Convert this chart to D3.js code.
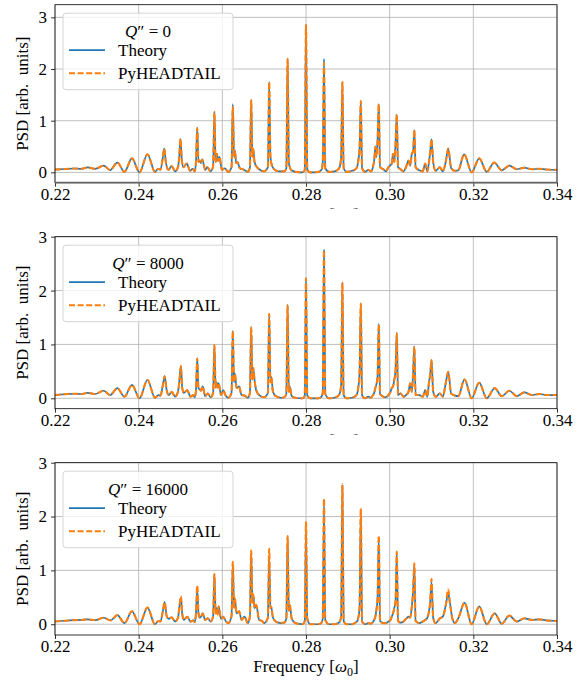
<!DOCTYPE html>
<html>
<head>
<meta charset="utf-8">
<script src="https://cdn.jsdelivr.net/npm/d3@7"></script>
<style>
  body { margin: 0; background: #fff; }
  text { font-family: "Liberation Serif", "DejaVu Serif", serif; }
</style>
</head>
<body>
<svg id="chart" width="580" height="683"></svg>
<script>
// tick values and labels
const X_TICKS = [0.22, 0.24, 0.26, 0.28, 0.30, 0.32, 0.34];
const Y_TICKS = [0, 1, 2, 3];
const SERIES = ['Theory', 'PyHEADTAIL'];
const CHROMA = ['0', '8000', '16000'];

// Theory spectra, [frequency, PSD]
const theoryQ0 = [
  [0.2200,0.055],[0.2224,0.065],[0.2245,0.075],[0.2262,0.068],[0.2278,0.095],[0.2296,0.068],[0.2316,0.13],[0.2332,0.045],
  [0.2349,0.19],[0.2366,0.01],[0.2384,0.27],[0.2402,0.0],[0.2421,0.35],[0.2439,0.01],[0.2447,0.07],[0.2452,0.05],
  [0.2458,0.3],[0.2461,0.46],[0.2465,0.2],[0.2471,0.05],[0.2479,0.12],[0.2487,0.02],
  [0.2494,0.1],[0.2497,0.3],[0.2500,0.65],[0.2503,0.25],[0.2507,0.1],[0.2515,0.17],[0.2523,0.03],[0.2529,0.07],[0.2534,0.02],
  [0.2537,0.2],[0.2540,0.86],[0.2543,0.2],[0.2546,0.23],[0.2549,0.18],[0.2552,0.25],[0.2559,0.05],[0.2564,0.1],[0.2572,0.02],
  [0.2578,0.12],[0.2581,1.17],[0.2584,0.2],[0.2587,0.36],[0.2590,0.22],[0.2593,0.3],[0.2599,0.05],[0.2606,0.08],[0.2614,0.01],
  [0.2622,0.1],[0.2625,1.32],[0.2628,0.3],[0.2630,0.43],[0.2633,0.18],[0.2636,0.2],[0.2642,0.08],[0.2652,0.05],[0.2661,0.01],
  [0.2666,0.1],[0.2669,1.40],[0.2672,0.3],[0.2674,0.45],[0.2677,0.2],[0.2681,0.12],[0.2688,0.06],[0.2700,0.02],
  [0.2709,0.1],[0.2712,1.75],[0.2715,0.3],[0.2718,0.15],[0.2724,0.06],[0.2735,0.02],[0.2748,0.02],
  [0.2753,0.08],[0.2756,2.2],[0.2759,0.18],[0.2765,0.04],[0.2775,0.01],[0.2792,0.0],
  [0.2797,0.05],[0.2800,2.85],[0.2803,0.05],[0.2810,0.0],[0.2830,0.01],
  [0.2837,0.05],[0.2840,0.18],[0.2843,2.2],[0.2846,0.08],[0.2855,0.01],[0.2868,0.02],
  [0.2876,0.05],[0.2881,0.12],[0.2884,0.3],[0.2887,1.75],[0.2890,0.08],[0.2897,0.01],[0.2910,0.03],
  [0.2918,0.06],[0.2922,0.1],[0.2925,0.23],[0.2928,0.45],[0.2931,1.38],[0.2934,0.08],[0.2941,0.01],[0.2949,0.05],[0.2955,0.02],
  [0.2960,0.1],[0.2963,0.23],[0.2966,0.5],[0.2968,0.3],[0.2971,0.6],[0.2974,1.32],[0.2977,0.1],[0.2985,0.06],[0.2991,0.02],[0.2997,0.1],
  [0.3002,0.14],[0.3005,0.17],[0.3008,0.36],[0.3011,0.2],[0.3014,0.55],[0.3017,1.12],[0.3020,0.1],[0.3026,0.06],[0.3033,0.02],[0.3039,0.1],
  [0.3045,0.23],[0.3049,0.13],[0.3053,0.36],[0.3056,0.4],[0.3059,0.82],[0.3062,0.1],[0.3071,0.04],[0.3079,0.02],[0.3085,0.17],[0.3090,0.02],
  [0.3094,0.2],[0.3097,0.4],[0.3100,0.64],[0.3104,0.2],[0.3110,0.03],[0.3120,0.1],[0.3127,0.02],
  [0.3134,0.2],[0.3140,0.46],[0.3147,0.08],[0.3156,0.03],[0.3164,0.04],
  [0.3178,0.35],[0.3196,0.0],[0.3214,0.27],[0.3232,0.01],[0.3250,0.19],[0.3268,0.04],[0.3286,0.13],[0.3304,0.06],
  [0.3322,0.09],[0.3340,0.06],[0.3358,0.07],[0.3375,0.055],[0.3400,0.05]
];

const theoryQ8000 = [
  [0.2200,0.06],[0.2224,0.075],[0.2245,0.085],[0.2262,0.08],[0.2278,0.1],[0.2296,0.08],[0.2316,0.14],[0.2332,0.06],
  [0.2349,0.19],[0.2366,0.03],[0.2384,0.25],[0.2402,0.0],[0.2421,0.34],[0.2439,0.01],[0.2447,0.06],[0.2452,0.05],
  [0.2458,0.25],[0.2462,0.41],[0.2467,0.15],[0.2472,0.06],[0.2479,0.12],[0.2487,0.03],
  [0.2494,0.12],[0.2497,0.3],[0.2501,0.6],[0.2504,0.2],[0.2508,0.1],[0.2516,0.15],[0.2524,0.03],[0.2530,0.06],[0.2534,0.02],
  [0.2537,0.15],[0.2540,0.74],[0.2543,0.18],[0.2546,0.17],[0.2549,0.14],[0.2553,0.22],[0.2559,0.04],[0.2565,0.09],[0.2572,0.02],
  [0.2578,0.1],[0.2581,0.99],[0.2584,0.2],[0.2586,0.3],[0.2589,0.2],[0.2591,0.28],[0.2597,0.06],[0.2602,0.15],[0.2608,0.05],[0.2614,0.01],
  [0.2622,0.1],[0.2625,1.25],[0.2628,0.3],[0.2630,0.46],[0.2634,0.19],[0.2640,0.22],[0.2646,0.06],[0.2653,0.05],[0.2661,0.01],
  [0.2666,0.1],[0.2669,1.32],[0.2672,0.35],[0.2674,0.56],[0.2677,0.34],[0.2681,0.15],[0.2688,0.06],[0.2700,0.02],
  [0.2709,0.1],[0.2712,1.57],[0.2715,0.3],[0.2717,0.4],[0.2721,0.12],[0.2728,0.04],[0.2740,0.01],[0.2748,0.02],
  [0.2753,0.08],[0.2756,1.73],[0.2759,0.12],[0.2761,0.22],[0.2766,0.04],[0.2775,0.01],[0.2792,0.0],
  [0.2797,0.05],[0.2800,2.23],[0.2803,0.06],[0.2810,0.0],[0.2830,0.0],
  [0.2837,0.03],[0.2840,0.1],[0.2843,2.75],[0.2846,0.08],[0.2855,0.0],[0.2868,0.01],
  [0.2876,0.04],[0.2881,0.1],[0.2884,0.25],[0.2887,2.15],[0.2890,0.06],[0.2897,0.0],[0.2910,0.01],
  [0.2918,0.04],[0.2922,0.08],[0.2925,0.2],[0.2928,0.46],[0.2931,1.76],[0.2934,0.06],[0.2941,0.0],[0.2949,0.03],[0.2955,0.01],
  [0.2960,0.06],[0.2963,0.1],[0.2966,0.2],[0.2968,0.25],[0.2971,0.4],[0.2974,1.38],[0.2977,0.08],[0.2985,0.03],[0.2991,0.02],[0.2997,0.06],
  [0.3002,0.12],[0.3005,0.19],[0.3008,0.22],[0.3011,0.34],[0.3014,0.52],[0.3017,1.22],[0.3020,0.06],[0.3026,0.09],[0.3033,0.03],[0.3039,0.06],
  [0.3045,0.12],[0.3049,0.28],[0.3053,0.12],[0.3056,0.46],[0.3059,0.96],[0.3062,0.06],[0.3071,0.06],[0.3079,0.03],[0.3085,0.15],[0.3090,0.03],
  [0.3094,0.3],[0.3097,0.45],[0.3100,0.71],[0.3104,0.12],[0.3110,0.03],[0.3120,0.09],[0.3127,0.03],
  [0.3134,0.28],[0.3140,0.49],[0.3147,0.09],[0.3156,0.05],[0.3164,0.04],
  [0.3179,0.35],[0.3196,0.0],[0.3214,0.29],[0.3232,0.0],[0.3251,0.19],[0.3268,0.04],[0.3286,0.14],[0.3304,0.04],
  [0.3322,0.11],[0.3340,0.06],[0.3358,0.08],[0.3375,0.06],[0.3400,0.06]
];

const theoryQ16000 = [
  [0.2200,0.05],[0.2224,0.065],[0.2245,0.075],[0.2262,0.08],[0.2278,0.09],[0.2296,0.075],[0.2316,0.12],[0.2333,0.07],
  [0.2349,0.17],[0.2366,0.02],[0.2384,0.24],[0.2402,0.0],[0.2421,0.31],[0.2439,0.0],[0.2447,0.06],[0.2452,0.05],
  [0.2458,0.25],[0.2462,0.41],[0.2467,0.15],[0.2472,0.1],[0.2479,0.13],[0.2487,0.05],
  [0.2494,0.12],[0.2497,0.3],[0.2501,0.5],[0.2504,0.2],[0.2508,0.08],[0.2516,0.14],[0.2524,0.05],[0.2530,0.07],[0.2534,0.04],
  [0.2537,0.2],[0.2540,0.65],[0.2543,0.2],[0.2546,0.12],[0.2549,0.14],[0.2553,0.2],[0.2559,0.08],[0.2565,0.11],[0.2572,0.05],
  [0.2578,0.15],[0.2581,0.93],[0.2584,0.2],[0.2586,0.3],[0.2589,0.18],[0.2591,0.33],[0.2597,0.1],[0.2602,0.14],[0.2608,0.06],[0.2614,0.02],
  [0.2622,0.15],[0.2625,1.13],[0.2628,0.3],[0.2630,0.48],[0.2634,0.2],[0.2640,0.24],[0.2646,0.08],[0.2653,0.14],[0.2661,0.02],
  [0.2666,0.15],[0.2669,1.33],[0.2672,0.4],[0.2674,0.55],[0.2677,0.3],[0.2681,0.36],[0.2688,0.08],[0.2695,0.06],[0.2700,0.02],
  [0.2709,0.12],[0.2712,1.25],[0.2715,0.3],[0.2717,0.32],[0.2721,0.12],[0.2728,0.05],[0.2740,0.02],[0.2748,0.03],
  [0.2753,0.1],[0.2756,1.62],[0.2759,0.25],[0.2761,0.36],[0.2766,0.1],[0.2775,0.02],[0.2792,0.0],
  [0.2797,0.06],[0.2800,1.75],[0.2803,0.1],[0.2810,0.0],[0.2830,0.0],
  [0.2837,0.03],[0.2840,0.1],[0.2843,2.2],[0.2846,0.08],[0.2855,0.0],[0.2868,0.0],
  [0.2876,0.02],[0.2881,0.05],[0.2884,0.15],[0.2887,2.58],[0.2890,0.06],[0.2897,0.0],[0.2910,0.0],
  [0.2918,0.03],[0.2922,0.05],[0.2925,0.12],[0.2928,0.3],[0.2931,2.12],[0.2934,0.05],[0.2941,0.0],[0.2949,0.02],[0.2955,0.01],
  [0.2960,0.04],[0.2963,0.08],[0.2966,0.15],[0.2968,0.25],[0.2971,0.48],[0.2974,1.58],[0.2977,0.06],[0.2985,0.02],[0.2991,0.02],[0.2997,0.05],
  [0.3002,0.08],[0.3005,0.14],[0.3008,0.2],[0.3011,0.3],[0.3014,0.42],[0.3017,1.3],[0.3020,0.06],[0.3026,0.03],[0.3033,0.05],[0.3039,0.1],
  [0.3045,0.14],[0.3049,0.12],[0.3053,0.33],[0.3056,0.6],[0.3059,1.1],[0.3062,0.06],[0.3071,0.02],[0.3079,0.05],[0.3085,0.08],[0.3090,0.12],
  [0.3094,0.24],[0.3097,0.42],[0.3100,0.78],[0.3104,0.12],[0.3110,0.02],[0.3120,0.11],[0.3127,0.14],
  [0.3134,0.35],[0.3140,0.57],[0.3144,0.4],[0.3150,0.1],[0.3156,0.02],[0.3164,0.11],
  [0.3179,0.4],[0.3196,0.0],[0.3214,0.33],[0.3232,0.0],[0.3251,0.2],[0.3268,0.01],[0.3286,0.16],[0.3304,0.05],
  [0.3322,0.11],[0.3340,0.08],[0.3358,0.09],[0.3375,0.07],[0.3400,0.06]
];

// PyHEADTAIL follows theory except at these peak tops
const pyPeaksQ0 = [[0.2625,1.27],[0.2843,2.12]];
const pyPeaksQ8000 = [[0.3017,1.2]];
const pyPeaksQ16000 = [
  [0.2501,0.52],[0.2540,0.72],[0.2625,1.16],[0.2669,1.37],[0.2712,1.4],[0.2756,1.64],[0.2800,1.9],[0.2843,2.33],
  [0.2887,2.6],[0.2931,2.16],[0.2974,1.65],[0.3017,1.35],[0.3059,1.13],[0.3100,0.84],[0.3140,0.65]
];

const panels = [
  { q: CHROMA[0], theory: theoryQ0, py: pyPeaksQ0, top: 4.7, bottom: 182.7, yMin: -0.2, yMax: 3.245, cover: 0 },
  { q: CHROMA[1], theory: theoryQ8000, py: pyPeaksQ8000, top: 236.7, bottom: 408.7, yMin: -0.193, yMax: 3, cover: 208.6 },
  { q: CHROMA[2], theory: theoryQ16000, py: pyPeaksQ16000, top: 462.7, bottom: 635, yMin: -0.2, yMax: 3, cover: 434.6 }
];

const LEFT = 55, RIGHT = 557;
const COLORS = ['#1f77b4', '#ff7f0e'];
const DASH = '6,2.6';

const svg = d3.select('#chart');
const x = d3.scaleLinear().domain([0.22, 0.34]).range([LEFT, RIGHT]);

panels.forEach((p, i) => {
  const g = svg.append('g');

  // each sub-figure sits on white and hides the one above's x label
  g.append('rect')
    .attr('x', 0).attr('y', p.cover)
    .attr('width', 580).attr('height', 683 - p.cover)
    .attr('fill', '#fff');

  const y = d3.scaleLinear().domain([p.yMin, p.yMax]).range([p.bottom, p.top]);

  // grid
  g.append('g').selectAll('line').data(X_TICKS).enter().append('line')
    .attr('x1', d => x(d)).attr('x2', d => x(d))
    .attr('y1', p.top).attr('y2', p.bottom)
    .attr('stroke', '#b0b0b0').attr('stroke-width', 0.8);
  g.append('g').selectAll('line').data(Y_TICKS).enter().append('line')
    .attr('x1', LEFT).attr('x2', RIGHT)
    .attr('y1', d => y(d)).attr('y2', d => y(d))
    .attr('stroke', '#b0b0b0').attr('stroke-width', 0.8);

  // data
  const clipId = 'clip' + i;
  g.append('clipPath').attr('id', clipId).append('rect')
    .attr('x', LEFT).attr('y', p.top)
    .attr('width', RIGHT - LEFT).attr('height', p.bottom - p.top);

  const line = d3.line()
    .x(d => x(d[0]))
    .y(d => y(d[1]))
    .curve(d3.curveMonotoneX);

  const pySeries = p.theory.map(d => {
    const o = p.py.find(e => e[0] === d[0]);
    return [d[0], o ? o[1] : d[1]];
  });

  const plot = g.append('g').attr('clip-path', `url(#${clipId})`);
  plot.append('path').datum(p.theory)
    .attr('d', line)
    .attr('fill', 'none')
    .attr('stroke', COLORS[0])
    .attr('stroke-width', 1.7)
    .attr('stroke-linejoin', 'round');
  plot.append('path').datum(pySeries)
    .attr('d', line)
    .attr('fill', 'none')
    .attr('stroke', COLORS[1])
    .attr('stroke-width', 2.1)
    .attr('stroke-dasharray', DASH);

  // axes
  const xAxis = g.append('g')
    .attr('transform', `translate(0,${p.bottom})`)
    .call(d3.axisBottom(x).tickValues(X_TICKS).tickFormat(d3.format('.2f')).tickSize(4).tickPadding(1));
  const yAxis = g.append('g')
    .attr('transform', `translate(${LEFT},0)`)
    .call(d3.axisLeft(y).tickValues(Y_TICKS).tickFormat(d3.format('d')).tickSize(4).tickPadding(4));
  [xAxis, yAxis].forEach(a => {
    a.select('.domain').remove();
    a.selectAll('line').attr('stroke', '#000').attr('stroke-width', 0.8);
    a.selectAll('text')
      .style('font-family', '"Liberation Serif", serif')
      .style('font-size', '17px')
      .attr('fill', '#000');
  });

  // frame
  g.append('rect')
    .attr('x', LEFT).attr('y', p.top)
    .attr('width', RIGHT - LEFT).attr('height', p.bottom - p.top)
    .attr('fill', 'none').attr('stroke', '#000').attr('stroke-width', 0.8);
  if (i === 0) {
    g.append('line')
      .attr('x1', LEFT).attr('x2', RIGHT)
      .attr('y1', p.bottom).attr('y2', p.bottom)
      .attr('stroke', '#666').attr('stroke-width', 1.8);
  }

  // y label
  g.append('text')
    .attr('transform', `translate(28,${(p.top + p.bottom) / 2}) rotate(-90)`)
    .attr('text-anchor', 'middle')
    .style('font-size', '17px')
    .text('PSD [arb.\u2002units]');

  // x label
  const xl = g.append('text')
    .attr('x', (LEFT + RIGHT) / 2)
    .attr('y', p.bottom + 37)
    .attr('text-anchor', 'middle')
    .style('font-size', '17px');
  xl.append('tspan').text('Frequency [');
  xl.append('tspan').style('font-style', 'italic').text('ω');
  xl.append('tspan').attr('dy', 4).style('font-size', '12px').text('0');
  xl.append('tspan').attr('dy', -4).text(']');

  // legend
  const lg = g.append('g');
  lg.append('rect')
    .attr('x', 63).attr('y', p.top + 8.5)
    .attr('width', 170).attr('height', 76.5)
    .attr('rx', 3)
    .attr('fill', '#fff').attr('fill-opacity', 0.8)
    .attr('stroke', '#d0d0d0').attr('stroke-width', 0.9);
  const title = lg.append('text')
    .attr('x', 148).attr('y', p.top + 32)
    .attr('text-anchor', 'middle')
    .style('font-size', '17px');
  title.append('tspan').style('font-style', 'italic').text('Q');
  title.append('tspan').text('\u2033 = ' + p.q);

  SERIES.forEach((s, k) => {
    const ly = p.top + 45.5 + k * 23;
    lg.append('line')
      .attr('x1', 69).attr('x2', 105)
      .attr('y1', ly).attr('y2', ly)
      .attr('stroke', COLORS[k])
      .attr('stroke-width', k ? 2.1 : 1.7)
      .attr('stroke-dasharray', k ? DASH : null);
    lg.append('text')
      .attr('x', 118).attr('y', ly + 6)
      .style('font-size', '17px')
      .text(s);
  });
});
</script>
</body>
</html>
